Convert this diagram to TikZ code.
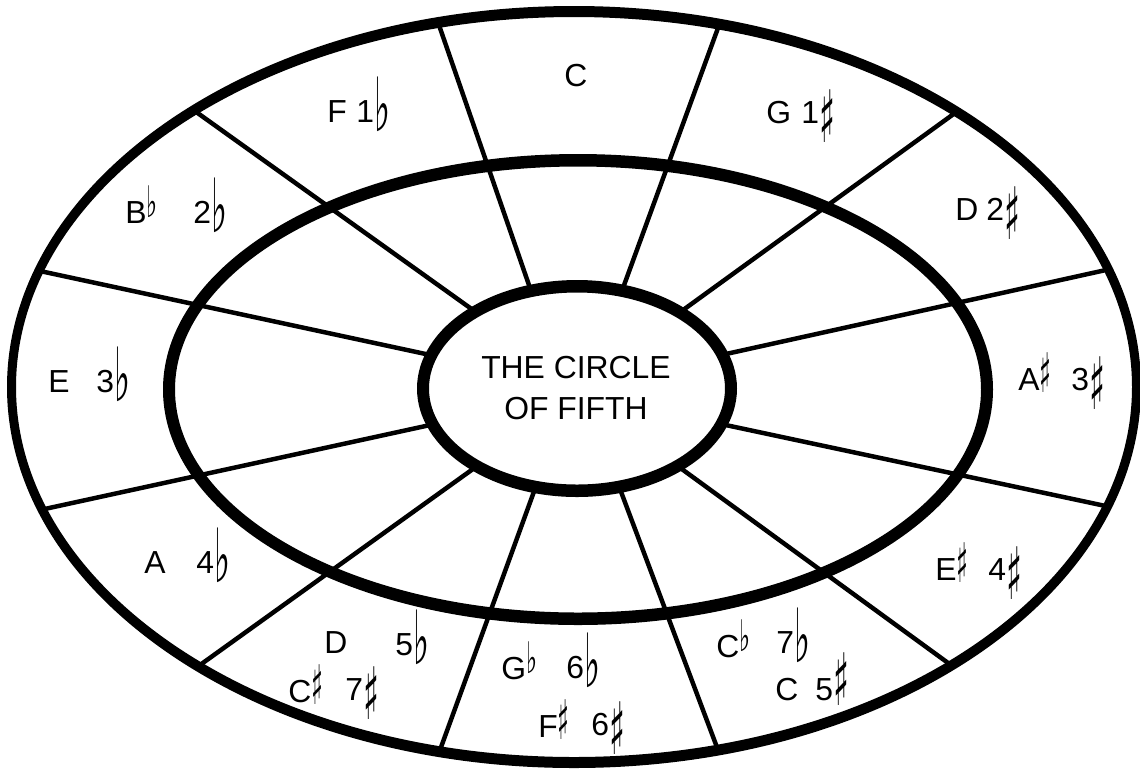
\documentclass[tikz,border=0pt]{standalone}
\usepackage{fontspec}
\setmainfont{Liberation Sans}
\newfontfamily\musfont{DejaVu Sans}[BoldFont=DejaVu Sans Bold]
\usepackage{graphicx}

% one pixel of the drawing
\newlength\pu
\setlength\pu{0.56693pt}
\newcommand\fl{\raisebox{-10\pu}{\resizebox*{16\pu}{55\pu}{\raisebox{\depth}{\musfont\bfseries ♭}}}}
\newcommand\sh[1][0]{\raisebox{\dimexpr#1\pu-20\pu\relax}{\resizebox*{16\pu}{53\pu}{\raisebox{\depth}{\musfont\bfseries ♯}}}}
\newcommand\sfl{\raisebox{5\pu}{\resizebox*{11\pu}{32\pu}{\raisebox{\depth}{\musfont\bfseries ♭}}}}
\newcommand\ssh{\raisebox{-2\pu}{\resizebox*{12\pu}{40\pu}{\raisebox{\depth}{\musfont\bfseries ♯}}}}

\tikzset{
  spoke/.style={line width=2.55pt, shorten <=-8pt, shorten >=-8pt},
  note/.style={anchor=base west, inner sep=0pt, font=\fontsize{18.14pt}{23.8pt}\selectfont},
  title/.style={align=center, inner sep=0pt, font=\fontsize{18.14pt}{23.8pt}\selectfont},
}

\begin{document}
\begin{tikzpicture}[x=0.02cm, y=-0.02cm]
    \useasboundingbox (0,0) rectangle (1140,769);
    \fill[white] (0,0) rectangle (1140,769);

    % spokes
    \begin{scope}
        \clip (574,387) ellipse [x radius=565, y radius=378];
        \foreach \ax/\ay/\bx/\by in {530/288/440/28, 623/288/718/28, 690/305/955/113,
            735/352/1115/268, 735/427/1115/508, 690/475/955/668, 623/497/718/750,
            532/497/440/750, 466/474/200/665, 421/427/40/510, 421/353/40/271, 466/305/199/114} {
            \draw[spoke] (\ax,\ay) -- (\bx,\by);
        }
    \end{scope}
    \fill[white] (577,388.5) ellipse [x radius=150, y radius=98];

    % rings
    \fill[even odd rule] (574,387) ellipse [x radius=567, y radius=381] (574,387) ellipse [x radius=558, y radius=370];
    \fill[even odd rule] (578,389.5) ellipse [x radius=415, y radius=235.5] (578,389.5) ellipse [x radius=403, y radius=223];
    \fill[even odd rule] (577,388.5) ellipse [x radius=160, y radius=108.5] (577,388.5) ellipse [x radius=148, y radius=96];

    \node[title] (centre) at (576,388) {THE CIRCLE\\OF FIFTH};

    % keys
    \foreach \x/\y/\t [count=\i] in {564/86/C, 327/122/F, 766/123/G, 125/223/B\sfl, 955/220/D,
        48/392/E, 1018/390/A\ssh, 144/573/A, 935/580/E\ssh, 324/653/D, 288/702/C\ssh,
        501/679/G\sfl, 538/737/F\ssh, 716/657/C\sfl, 775/700/C} {
        \node[note] (key\i) at (\x,\y) {\t};
    }
    % signatures
    \foreach \x/\y/\t [count=\i] in {356/122/1\fl, 801/123/1\sh, 193/223/2\fl, 986/220/2\sh,
        96/392/3\fl, 1071/390/3\sh, 196/573/4\fl, 988/580/4\sh, 395/655/5\fl, 345/700/7\sh,
        566/678/6\fl, 591/735/6\sh, 776/653/7\fl, 815/700/5\sh[14]} {
        \node[note] (sig\i) at (\x,\y) {\t};
    }
\end{tikzpicture}
\end{document}
